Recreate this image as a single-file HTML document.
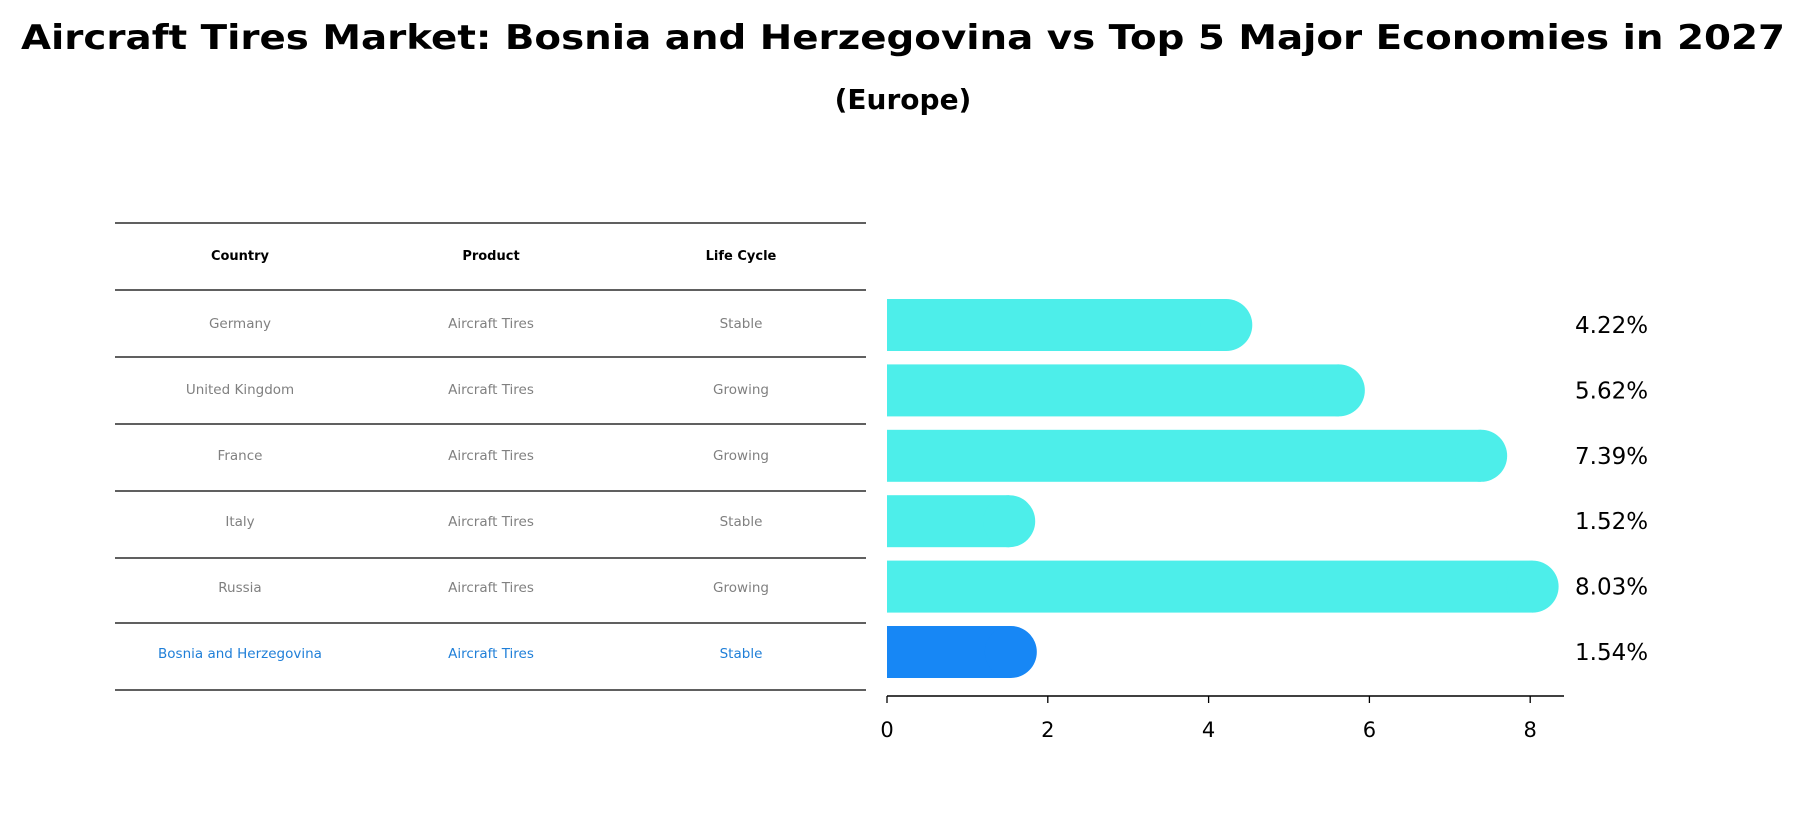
<!DOCTYPE html>
<html><head><meta charset="utf-8"><style>
body{margin:0;background:#fff;}
svg text{font-family:"DejaVu Sans","Liberation Sans",sans-serif;}
</style></head><body>
<svg width="1806" height="823" viewBox="0 0 1806 823" xmlns="http://www.w3.org/2000/svg">
<text x="903" y="49" text-anchor="middle" font-size="34" font-weight="bold" textLength="1764" lengthAdjust="spacingAndGlyphs">Aircraft Tires Market: Bosnia and Herzegovina vs Top 5 Major Economies in 2027</text>
<text x="903" y="109" text-anchor="middle" font-size="28" font-weight="bold">(Europe)</text>
<g id="table"></g>
<g id="bars"></g>
</svg>
<script>
const countries=["Germany","United Kingdom","France","Italy","Russia","Bosnia and Herzegovina"];
const products=["Aircraft Tires","Aircraft Tires","Aircraft Tires","Aircraft Tires","Aircraft Tires","Aircraft Tires"];
const lifecycles=["Stable","Growing","Growing","Stable","Growing","Stable"];
const values=[4.22,5.62,7.39,1.52,8.03,1.54];
const ticks=[0,2,4,6,8];
const NS="http://www.w3.org/2000/svg";
function mk(t,a,p){const e=document.createElementNS(NS,t);for(const k in a)e.setAttribute(k,a[k]);p.appendChild(e);return e;}
const tbl=document.getElementById('table'),bars=document.getElementById('bars');
const x=v=>887+v*80.4;
const rowY=i=>323+i*66;
const lineY=[223,290,357,424,491,558,623,690];
const colX=[240,491,741];
lineY.forEach(y=>{const l=mk('line',{x1:115,x2:866,y1:y,y2:y,stroke:'#000','stroke-width':1.2},tbl);

});
["Country","Product","Life Cycle"].forEach((h,j)=>{const t=mk('text',{x:colX[j],y:260,'text-anchor':'middle','font-size':13,'font-weight':'bold'},tbl);t.textContent=h;

});
countries.forEach((c,i)=>{const last=i===countries.length-1;const col=last?'#1f7fd8':'#808080';
[c,products[i],lifecycles[i]].forEach((s,j)=>{const t=mk('text',{x:colX[j],y:rowY(i)+5,'text-anchor':'middle','font-size':13.5,fill:col},tbl);t.textContent=s;

});});
const h=52;
values.forEach((v,i)=>{const cy=[325,390,455,521,586,652][0]+i*65.4;const last=i===values.length-1;const fill=last?'#1787f5':'#4deeea';
const g=mk('g',{},bars);


const xe=x(v);
mk('rect',{x:887,y:cy-h/2,width:xe-887,height:h,fill:fill},g);
mk('circle',{cx:xe,cy:cy,r:h/2,fill:fill},g);
const t=mk('text',{x:1575,y:cy+8,'font-size':23},bars);t.textContent=v.toFixed(2)+'%';

});
const ax=mk('line',{x1:887,x2:1564,y1:696,y2:696,stroke:'#000','stroke-width':1.5},bars);


ticks.forEach(tv=>{mk('line',{x1:x(tv),x2:x(tv),y1:696,y2:703,stroke:'#000','stroke-width':1.3},bars);
const t=mk('text',{x:x(tv),y:737,'text-anchor':'middle','font-size':21},bars);t.textContent=tv;

});
</script>
</body></html>
